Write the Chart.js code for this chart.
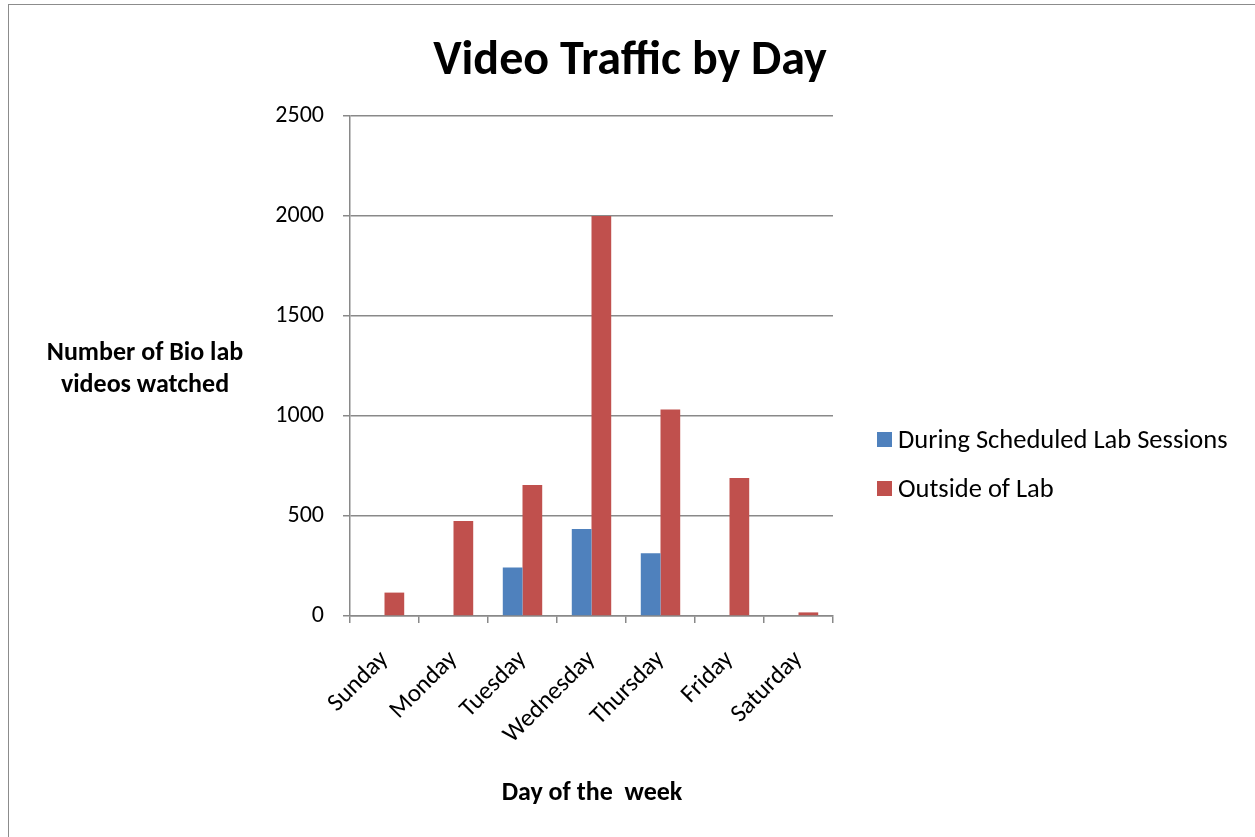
<!DOCTYPE html>
<html>
<head>
<meta charset="utf-8">
<script src="https://cdn.jsdelivr.net/npm/chart.js@4.4.0/dist/chart.umd.min.js"></script>
<style>
  html, body { margin: 0; padding: 0; background: #fff; }
  #wrap { position: relative; width: 1255px; height: 837px; overflow: hidden; }
  #frame { position: absolute; left: 8px; top: 4px; width: 1300px; height: 900px;
           border-top: 1px solid #8c8c8c; border-left: 1px solid #8c8c8c; }
  canvas { position: absolute; left: 0; top: 0; }
</style>
</head>
<body>
<div id="wrap">
  <div id="frame"></div>
  <canvas id="chart" width="1255" height="837"></canvas>
</div>
<script>
// dados do gráfico
const days = ['Sunday', 'Monday', 'Tuesday', 'Wednesday', 'Thursday', 'Friday', 'Saturday'];
const duringLab = [0, 0, 243, 435, 314, 0, 0];
const outsideLab = [117, 475, 655, 2000, 1032, 690, 18];
const seriesNames = ['During Scheduled Lab Sessions', 'Outside of Lab'];
const yMax = 2500;
const yStep = 500;

const FONT = "Carlito, Lato, 'Liberation Sans', sans-serif";

// textos extras: título do eixo Y, eixo X e legenda
const extrasPlugin = {
    id: 'extras',
    afterDraw(chart) {
        const ctx = chart.ctx;
        ctx.save();
        ctx.fillStyle = '#000';
        ctx.textAlign = 'center';
        ctx.textBaseline = 'alphabetic';
        ctx.font = 'bold 26px ' + FONT;
        ctx.fillText('Number of Bio lab', 145, 360);
        ctx.fillText('videos watched', 145, 392);
        ctx.fillText('Day of the  week', 592, 800);

        // legenda
        ctx.textAlign = 'left';
        ctx.font = '26.5px ' + FONT;
        const rows = [439, 488];
        chart.data.datasets.forEach((ds, i) => {
            ctx.fillStyle = ds.backgroundColor;
            ctx.fillRect(877, rows[i] - 7, 15, 15);
            ctx.fillStyle = '#000';
            ctx.fillText(ds.label, 898, rows[i] + 9);
        });
        ctx.restore();
    }
};

function createChart() {
    const ctx = document.getElementById('chart').getContext('2d');
    new Chart(ctx, {
        type: 'bar',
        data: {
            labels: days,
            datasets: [
                { label: seriesNames[0], data: duringLab, backgroundColor: '#4F81BD' },
                { label: seriesNames[1], data: outsideLab, backgroundColor: '#C0504D' }
            ]
        },
        options: {
            responsive: false,
            animation: false,
            layout: { padding: { left: 0, top: 116, right: 422, bottom: 0 } },
            datasets: {
                bar: { categoryPercentage: 2 / 3.5, barPercentage: 1 }
            },
            plugins: {
                legend: { display: false },
                tooltip: { enabled: false },
                title: { display: false }
            },
            scales: {
                x: {
                    afterFit(scale) { scale.height = 221; },
                    grid: { offset: true, drawOnChartArea: false, color: '#898989', lineWidth: 1.5, tickLength: 7 },
                    border: { color: '#898989', width: 1.5 },
                    ticks: {
                        color: '#000',
                        font: { family: FONT, size: 25 },
                        minRotation: 45, maxRotation: 45,
                        padding: 22
                    }
                },
                y: {
                    min: 0, max: yMax,
                    afterFit(scale) { scale.width = 350; },
                    grid: { color: '#898989', lineWidth: 1.5, tickLength: 7 },
                    border: { color: '#898989', width: 1.5 },
                    ticks: {
                        stepSize: yStep,
                        color: '#000',
                        font: { family: FONT, size: 24 },
                        padding: 19,
                        callback: (v) => String(v)
                    }
                }
            }
        },
        plugins: [extrasPlugin, {
            id: 'mainTitle',
            afterDraw(chart) {
                const c = chart.ctx;
                c.save();
                c.fillStyle = '#000';
                c.textAlign = 'center';
                c.font = 'bold 48px ' + FONT;
                c.fillText('Video Traffic by Day', 630, 74);
                c.restore();
            }
        }]
    });
}

window.onload = function () {
    createChart();
};
</script>
</body>
</html>
